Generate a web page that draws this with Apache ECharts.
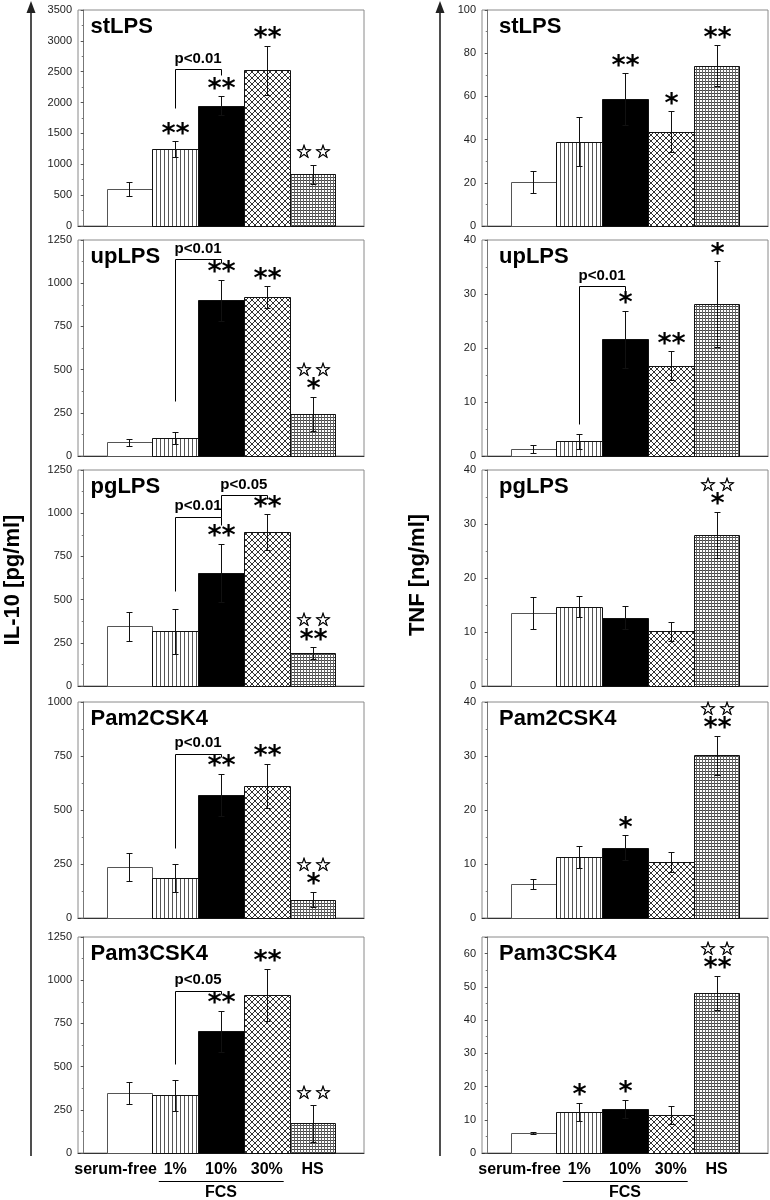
<!DOCTYPE html>
<html><head><meta charset="utf-8">
<script src="https://cdn.jsdelivr.net/npm/echarts@6/dist/echarts.min.js"></script>
<style>html,body{margin:0;padding:0;background:#fff}#c{width:770px;height:1200px}</style>
</head><body><div id="c"></div>
<script>
// ---------- DATA ----------
const categories = ['serum-free', '1%', '10%', '30%', 'HS'];
const panelNames = ['stLPS', 'upLPS', 'pgLPS', 'Pam2CSK4', 'Pam3CSK4'];

// IL-10 [pg/ml]
const IL10_stLPS      = [600, 1240, 1950, 2520, 835];
const IL10_stLPS_SD   = [120, 130, 150, 400, 155];
const IL10_upLPS      = [80, 106, 900, 920, 243];
const IL10_upLPS_SD   = [20, 34, 120, 62, 100];
const IL10_pgLPS      = [345, 318, 656, 890, 190];
const IL10_pgLPS_SD   = [85, 130, 167, 105, 35];
const IL10_Pam2       = [236, 187, 571, 611, 85];
const IL10_Pam2_SD    = [66, 65, 97, 104, 36];
const IL10_Pam3       = [348, 333, 705, 915, 171];
const IL10_Pam3_SD    = [63, 91, 118, 150, 106];

const IL10_stLPS_SIG  = ['', '**', '**', '**', ''];
const IL10_upLPS_SIG  = ['', '', '**', '**', '*'];
const IL10_pgLPS_SIG  = ['', '', '**', '**', '**'];
const IL10_Pam2_SIG   = ['', '', '**', '**', '*'];
const IL10_Pam3_SIG   = ['', '', '**', '**', ''];
const IL10_STAR       = ['', '', '', '', '☆\u200A☆'];

// brackets: [fromBar, toBar, startValue, topValue, endValue]
const IL10_stLPS_BR = [[2, 3, 1907, 2540, 2447]];
const IL10_stLPS_BR_TXT = ['p<0.01'];
const IL10_upLPS_BR = [[2, 3, 319, 1140, 1115]];
const IL10_upLPS_BR_TXT = ['p<0.01'];
const IL10_pgLPS_BR = [[2, 3, 550, 980, 930], [3, 4, 980, 1105, 1085]];
const IL10_pgLPS_BR_TXT = ['p<0.01', 'p<0.05'];
const IL10_Pam2_BR = [[2, 3, 326, 761, 745]];
const IL10_Pam2_BR_TXT = ['p<0.01'];
const IL10_Pam3_BR = [[2, 3, 514, 940, 920]];
const IL10_Pam3_BR_TXT = ['p<0.05'];

const IL10_MAX  = [3500, 1250, 1250, 1000, 1250];
const IL10_STEP = [500, 250, 250, 250, 250];

// TNF [ng/ml]
const TNF_stLPS     = [20.3, 39, 58.8, 43.7, 74.2];
const TNF_stLPS_SD  = [5, 11.3, 12, 9.5, 9.5];
const TNF_upLPS     = [1.3, 2.7, 21.6, 16.7, 28.1];
const TNF_upLPS_SD  = [0.8, 1.35, 5.3, 2.7, 8];
const TNF_pgLPS     = [13.5, 14.7, 12.65, 10.1, 28];
const TNF_pgLPS_SD  = [2.9, 2, 2.1, 1.7, 4.3];
const TNF_Pam2      = [6.25, 11.35, 13.0, 10.4, 30.1];
const TNF_Pam2_SD   = [0.95, 2.05, 2.35, 1.8, 3.65];
const TNF_Pam3      = [5.9, 12.4, 13.2, 11.5, 48.2];
const TNF_Pam3_SD   = [0.3, 2.75, 2.8, 2.65, 5.1];

const TNF_stLPS_SIG = ['', '', '**', '*', '**'];
const TNF_upLPS_SIG = ['', '', '*', '**', '*'];
const TNF_pgLPS_SIG = ['', '', '', '', '*'];
const TNF_Pam2_SIG  = ['', '', '*', '', '**'];
const TNF_Pam3_SIG  = ['', '*', '*', '', '**'];
const TNF_STAR_NONE = ['', '', '', '', ''];
const TNF_STAR      = ['', '', '', '', '☆\u200A☆'];

const TNF_upLPS_BR = [[2, 3, 5.9, 31.5, 30.5]];
const TNF_upLPS_BR_TXT = ['p<0.01'];

const TNF_MAX  = [100, 40, 40, 40, 65];
const TNF_STEP = [20, 10, 10, 10, 10];

// ---------- STYLE ----------
const FONT = '"Liberation Sans", Arial, Helvetica, sans-serif';
const AST_FONT = 'bold 27px "DejaVu Sans", sans-serif';
const STAR_FONT = '19px "DejaVu Sans", sans-serif';
const GRID_TOPS = [10, 240, 470, 702, 937];
const GRID_H = 216;
const COL_LEFT = [78, 482];
const GRID_W = 286;

function pattern(w, h, draw) {
  const c = document.createElement('canvas');
  c.width = w; c.height = h;
  const g = c.getContext('2d');
  g.fillStyle = '#fff'; g.fillRect(0, 0, w, h);
  draw(g);
  return { image: c, repeat: 'repeat' };
}
const patV = pattern(4, 4, g => { g.fillStyle = '#555'; g.fillRect(0, 0, 1, 4); });
const patX = pattern(6, 6, g => { g.fillStyle = '#333'; for (let k = 0; k < 6; k++) { g.fillRect(k, k, 1, 1); g.fillRect(5 - k, k, 1, 1); } });
const patG = pattern(3, 3, g => { g.fillStyle = '#444'; g.fillRect(0, 0, 3, 1); g.fillStyle = '#666'; g.fillRect(0, 0, 1, 3); });
const FILLS = ['#ffffff', patV, '#000000', patX, patG];

function barRenderer(sig, star, isBottom) {
  return function (params, api) {
    const i = params.dataIndex;
    const x = api.value(0), v = api.value(1), e = api.value(2);
    const tl = api.coord([x - 0.5, v]);
    const br = api.coord([x + 0.5, 0]);
    const L = Math.round(tl[0]), R = Math.round(br[0]), T = Math.round(tl[1]), B = Math.round(br[1]);
    const ch = [];
    ch.push({ type: 'rect', shape: { x: L + 0.5, y: T + 0.5, width: R - L, height: B - T },
      style: { fill: FILLS[i], stroke: i === 0 ? '#555' : '#111', lineWidth: 1 } });
    const et = api.coord([x, v + e]);
    const eb = api.coord([x, v - e]);
    const cx = Math.round(et[0]) + 0.5;
    const yt = Math.round(et[1]) + 0.5, yb = Math.round(eb[1]) + 0.5;
    ch.push({ type: 'line', shape: { x1: cx, y1: yt, x2: cx, y2: yb }, style: { stroke: '#111', lineWidth: 1 } });
    ch.push({ type: 'line', shape: { x1: cx - 3, y1: yt, x2: cx + 3, y2: yt }, style: { stroke: '#111', lineWidth: 1 } });
    ch.push({ type: 'line', shape: { x1: cx - 3, y1: yb, x2: cx + 3, y2: yb }, style: { stroke: '#111', lineWidth: 1 } });
    let y = et[1];
    if (sig[i]) {
      y -= 13;
      ch.push({ type: 'text', style: { text: sig[i], x: cx, y: y + 6.5, align: 'center', verticalAlign: 'middle',
        font: AST_FONT, fill: '#000' } });
      y -= 12.7;
    } else {
      y -= 11.5;
    }
    if (star[i]) {
      ch.push({ type: 'text', style: { text: star[i], x: cx, y: y, align: 'center', verticalAlign: 'middle',
        font: STAR_FONT, fill: '#000', stroke: '#000', lineWidth: 0.6 } });
    }
    if (isBottom) {
      const b0 = api.coord([x, 0]);
      if (i === 0) {
        const r = api.coord([x + 0.6, 0]);
        ch.push({ type: 'text', style: { text: categories[i], x: r[0], y: b0[1] + 17, align: 'right', verticalAlign: 'middle',
          font: 'bold 16px ' + FONT, fill: '#000' } });
      } else {
        ch.push({ type: 'text', style: { text: categories[i], x: b0[0], y: b0[1] + 17, align: 'center', verticalAlign: 'middle',
          font: 'bold 16px ' + FONT, fill: '#000' } });
      }
      if (i === 2) {
        const a = api.coord([2 - 0.36, 0]), b = api.coord([4 + 0.37, 0]);
        ch.push({ type: 'line', shape: { x1: a[0], y1: Math.round(a[1] + 28) + 0.5, x2: b[0], y2: Math.round(a[1] + 28) + 0.5 },
          style: { stroke: '#000', lineWidth: 1 } });
        ch.push({ type: 'text', style: { text: 'FCS', x: b0[0], y: b0[1] + 40, align: 'center', verticalAlign: 'middle',
          font: 'bold 16px ' + FONT, fill: '#000' } });
      }
    }
    return { type: 'group', children: ch };
  };
}

function bracketRenderer(texts) {
  return function (params, api) {
    const x1 = api.value(0), x2 = api.value(1);
    const p0 = api.coord([x1, api.value(2)]);
    const p1 = api.coord([x1, api.value(3)]);
    const p2 = api.coord([x2, api.value(3)]);
    const p3 = api.coord([x2, api.value(4)]);
    const r = v => Math.round(v) + 0.5;
    return { type: 'group', children: [
      { type: 'polyline', shape: { points: [[r(p0[0]), r(p0[1])], [r(p1[0]), r(p1[1])], [r(p2[0]), r(p2[1])], [r(p3[0]), r(p3[1])]] },
        style: { stroke: '#000', lineWidth: 1, fill: null } },
      { type: 'text', style: { text: texts[params.dataIndex], x: (p1[0] + p2[0]) / 2, y: p1[1] - 3, align: 'center',
        verticalAlign: 'bottom', font: 'bold 15px ' + FONT, fill: '#000' } }
    ] };
  };
}

const panels = [
  // column 0: IL-10
  { col: 0, row: 0, m: IL10_stLPS, sd: IL10_stLPS_SD, sig: IL10_stLPS_SIG, star: IL10_STAR, br: IL10_stLPS_BR, brt: IL10_stLPS_BR_TXT, max: IL10_MAX[0], step: IL10_STEP[0] },
  { col: 0, row: 1, m: IL10_upLPS, sd: IL10_upLPS_SD, sig: IL10_upLPS_SIG, star: IL10_STAR, br: IL10_upLPS_BR, brt: IL10_upLPS_BR_TXT, max: IL10_MAX[1], step: IL10_STEP[1] },
  { col: 0, row: 2, m: IL10_pgLPS, sd: IL10_pgLPS_SD, sig: IL10_pgLPS_SIG, star: IL10_STAR, br: IL10_pgLPS_BR, brt: IL10_pgLPS_BR_TXT, max: IL10_MAX[2], step: IL10_STEP[2] },
  { col: 0, row: 3, m: IL10_Pam2, sd: IL10_Pam2_SD, sig: IL10_Pam2_SIG, star: IL10_STAR, br: IL10_Pam2_BR, brt: IL10_Pam2_BR_TXT, max: IL10_MAX[3], step: IL10_STEP[3] },
  { col: 0, row: 4, m: IL10_Pam3, sd: IL10_Pam3_SD, sig: IL10_Pam3_SIG, star: IL10_STAR, br: IL10_Pam3_BR, brt: IL10_Pam3_BR_TXT, max: IL10_MAX[4], step: IL10_STEP[4] },
  // column 1: TNF
  { col: 1, row: 0, m: TNF_stLPS, sd: TNF_stLPS_SD, sig: TNF_stLPS_SIG, star: TNF_STAR_NONE, br: [], brt: [], max: TNF_MAX[0], step: TNF_STEP[0] },
  { col: 1, row: 1, m: TNF_upLPS, sd: TNF_upLPS_SD, sig: TNF_upLPS_SIG, star: TNF_STAR_NONE, br: TNF_upLPS_BR, brt: TNF_upLPS_BR_TXT, max: TNF_MAX[1], step: TNF_STEP[1] },
  { col: 1, row: 2, m: TNF_pgLPS, sd: TNF_pgLPS_SD, sig: TNF_pgLPS_SIG, star: TNF_STAR, br: [], brt: [], max: TNF_MAX[2], step: TNF_STEP[2] },
  { col: 1, row: 3, m: TNF_Pam2, sd: TNF_Pam2_SD, sig: TNF_Pam2_SIG, star: TNF_STAR, br: [], brt: [], max: TNF_MAX[3], step: TNF_STEP[3] },
  { col: 1, row: 4, m: TNF_Pam3, sd: TNF_Pam3_SD, sig: TNF_Pam3_SIG, star: TNF_STAR, br: [], brt: [], max: TNF_MAX[4], step: TNF_STEP[4] }
];

const grid = [], xAxis = [], yAxis = [], series = [], graphic = [];
panels.forEach((p, k) => {
  const left = COL_LEFT[p.col], top = GRID_TOPS[p.row];
  grid.push({ left: left, top: top, width: GRID_W, height: GRID_H, show: true, borderColor: '#8a8a8a', borderWidth: 1,
    backgroundColor: 'transparent', containLabel: false });
  xAxis.push({ gridIndex: k, type: 'value', min: -0.125, max: 6.125,
    axisLine: { show: true, onZero: false, lineStyle: { color: '#333', width: 1 } },
    axisTick: { show: false }, axisLabel: { show: false }, splitLine: { show: false } });
  const step = p.step;
  yAxis.push({ gridIndex: k, type: 'value', min: 0, max: p.max, interval: step,
    axisLine: { show: true, lineStyle: { color: '#777', width: 1 } },
    axisTick: { show: true, length: 3, lineStyle: { color: '#555' } },
    minorTick: { show: true, splitNumber: 2, length: 2, lineStyle: { color: '#777' } },
    axisLabel: { fontSize: 11, color: '#222', fontFamily: FONT, margin: 6,
      formatter: v => (Math.abs(v / step - Math.round(v / step)) < 1e-6 ? String(v) : '') },
    splitLine: { show: false } });
  series.push({ type: 'custom', xAxisIndex: k, yAxisIndex: k, clip: false,
    encode: { x: 0, y: 1 },
    data: p.m.map((v, i) => [i + 1, v, p.sd[i]]),
    renderItem: barRenderer(p.sig, p.star, p.row === 4), z: 2 });
  if (p.br.length) {
    series.push({ type: 'custom', xAxisIndex: k, yAxisIndex: k, clip: false,
      encode: { x: [0, 1], y: [2, 3, 4] },
      data: p.br,
      renderItem: bracketRenderer(p.brt), z: 3 });
  }
  graphic.push({ type: 'text', x: left + (p.col === 0 ? 12.5 : 17), y: top + 17.4,
    style: { text: panelNames[p.row], font: 'bold 22px ' + FONT, fill: '#000', verticalAlign: 'middle' } });
});

// axis arrows and y titles
[31, 440].forEach(ax => {
  graphic.push({ type: 'line', shape: { x1: ax, y1: 12, x2: ax, y2: 1156 }, style: { stroke: '#222', lineWidth: 1.6 } });
  graphic.push({ type: 'polygon', shape: { points: [[ax, 1], [ax - 4.5, 13], [ax + 4.5, 13]] }, style: { fill: '#222' } });
});
graphic.push({ type: 'text', x: 13, y: 580, rotation: Math.PI / 2,
  style: { text: 'IL-10 [pg/ml]', font: 'bold 22px ' + FONT, fill: '#000', align: 'center', verticalAlign: 'middle' } });
graphic.push({ type: 'text', x: 418, y: 575, rotation: Math.PI / 2,
  style: { text: 'TNF [ng/ml]', font: 'bold 22px ' + FONT, fill: '#000', align: 'center', verticalAlign: 'middle' } });

const chart = echarts.init(document.getElementById('c'), null, { renderer: 'canvas' });
chart.setOption({ animation: false, backgroundColor: '#fff', grid, xAxis, yAxis, series, graphic });
</script>
</body></html>
